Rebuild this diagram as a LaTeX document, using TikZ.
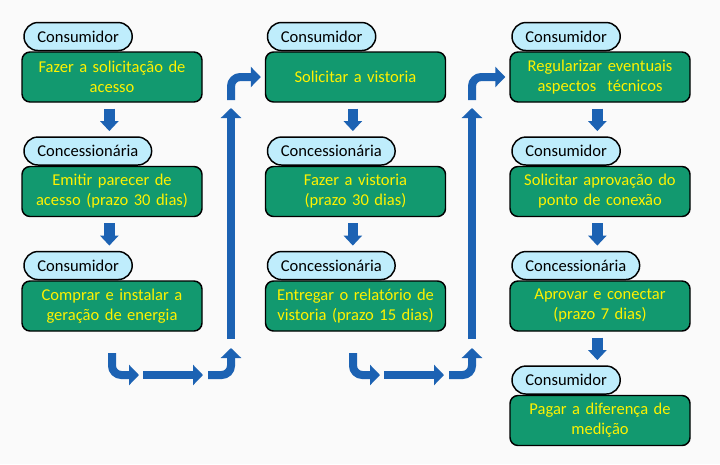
\documentclass[tikz,border=0pt]{standalone}
\usepackage{fontspec}
\setmainfont{Carlito}
\usetikzlibrary{arrows.meta,positioning}
\definecolor{stepgreen}{HTML}{12996F}
\definecolor{rolecyan}{HTML}{BFEDFC}
\definecolor{flowblue}{HTML}{1C62B3}
\definecolor{paper}{HTML}{FAFAFA}

\tikzset{
  task/.style={draw=black, line width=1.1pt, fill=stepgreen, rounded corners=6pt,
    minimum width=135pt, minimum height=37.5pt, text width=128pt, align=center,
    text=yellow, font=\fontsize{12.4}{15}\selectfont},
  role/.style={draw=black, line width=1.1pt, fill=rolecyan, rounded corners=10.5pt,
    minimum height=21pt, inner xsep=10pt, anchor=south west,
    font=\fontsize{12.4}{15}\selectfont},
  droparrow/.style={flowblue, line width=8pt, -{Triangle[width=13.5pt,length=7.5pt]}},
  turnarrow/.style={flowblue, line width=6pt, rounded corners=7pt, -{Triangle[width=15pt,length=7.5pt]}},
}

\begin{document}
\begin{tikzpicture}[x=0.75pt, y=-0.75pt]
\fill[paper] (0,0) rectangle (720,464);
\useasboundingbox (0,0) rectangle (720,464);

% steps: name / x / y / role / text
\foreach \n/\x/\y/\who/\txt in {
  a1/112/77/Consumidor/{Fazer a solicitação de\\acesso},
  a2/112/191.5/Concessionária/{Emitir parecer de\\acesso (prazo 30 dias)},
  a3/112/306/Consumidor/{Comprar e instalar a\\geração de energia},
  b1/355.5/77/Consumidor/{Solicitar a vistoria},
  b2/355.5/191.5/Concessionária/{Fazer a vistoria\\(prazo 30 dias)},
  b3/355.5/306/Concessionária/{Entregar o relatório de\\vistoria (prazo 15 dias)},
  c1/600/77/Consumidor/{Regularizar eventuais\\aspectos\ \ técnicos},
  c2/600/191.5/Consumidor/{Solicitar aprovação do\\ponto de conexão},
  c3/600/306/Concessionária/{Aprovar e conectar\\(prazo 7 dias)},
  c4/600/420.5/Consumidor/{Pagar a diferença de\\medição}} {
  \node[task] (\n) at (\x,\y) {\txt};
  \node[role] (\n-who) at ([xshift=1.5pt]\n.north west) {\who};
}

% arrows inside a column
\foreach \i/\j in {a1/a2, a2/a3, b1/b2, b2/b3, c1/c2, c2/c3, c3/c4} {
  \draw[droparrow] ([xshift=-2pt,yshift=-4.5pt]\i.south) -- ([xshift=-2pt,yshift=26pt]\j.north);
}

% from the foot of one column to the head of the next
\foreach \c/\d/\dx in {a/b/0, b/c/241} {
  \coordinate (\c-p) at (112+\dx,353);
  \coordinate (\c-q) at (139+\dx,375);
  \coordinate (\c-r) at (143+\dx,375);
  \coordinate (\c-s) at (203+\dx,375);
  \coordinate (\c-t) at (208+\dx,375);
  \coordinate (\c-u) at (231+\dx,348);
  \coordinate (\c-v) at (231+\dx,339);
  \coordinate (\c-w) at (231+\dx,108);
  \coordinate (\c-x) at (231+\dx,100);
  \draw[turnarrow] (\c-p) |- (\c-q);
  \draw[turnarrow] (\c-r) -- (\c-s);
  \draw[turnarrow] (\c-t) -| (\c-u);
  \draw[turnarrow] (\c-v) -- (\c-w);
  \draw[turnarrow] (\c-x) |- ([xshift=-3pt]\d1.west);
}
\end{tikzpicture}
\end{document}
